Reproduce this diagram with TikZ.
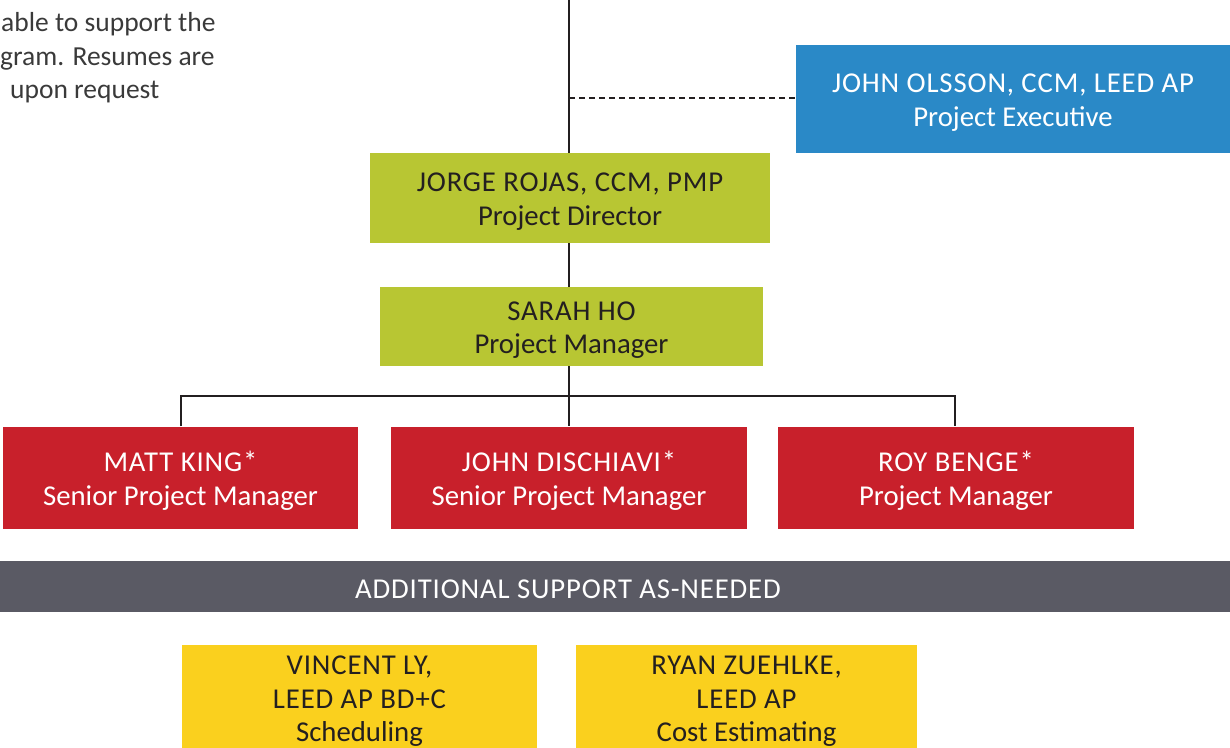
\documentclass[tikz,border=0pt]{standalone}
\usepackage{fontspec}
\setmainfont{Carlito}
\newfontfamily\capsfont[LetterSpace=3]{Carlito}
\definecolor{cblue}{HTML}{2A89C7}
\definecolor{cgreen}{HTML}{B8C633}
\definecolor{cred}{HTML}{C8202B}
\definecolor{cgray}{HTML}{5A5A64}
\definecolor{cyellow}{HTML}{FAD01E}
\definecolor{cdark}{HTML}{231F20}
\definecolor{ctext}{HTML}{3A3A3A}
\begin{document}
\begin{tikzpicture}[x=1pt,y=-1pt,
  box/.style={rectangle,inner sep=0pt},
  bluebox/.style={box,fill=cblue},
  greenbox/.style={box,fill=cgreen},
  redbox/.style={box,fill=cred},
  yellowbox/.style={box,fill=cyellow},
  txt/.style={inner sep=0pt,align=center,font=\fontsize{28.75}{33.5}\selectfont,yshift=-3.5pt},
  wtxt/.style={txt,text=white},
  dtxt/.style={txt,text=cdark},
  conn/.style={draw=cdark,line width=2pt},
  dashconn/.style={draw=cdark,line width=2pt,dash pattern=on 6pt off 4pt},
  note/.style={anchor=base west,inner sep=0pt,text=ctext,font=\fontsize{27.5}{33}\selectfont}]
\useasboundingbox (0,0) rectangle (1230,747);
\clip (0,0) rectangle (1230,747);

% top-left note
\node[note] (n1) at (1,31) {able to support the};
\node[note] (n2) at (0,65) {gram. Resumes are};
\node[note] (n3) at (10,98) {upon request};

% boxes
\node[bluebox,minimum width=434pt,minimum height=108pt] (olsson) at (1013,99) {};
\node[wtxt] (olssont) at (olsson.center) {{\capsfont JOHN OLSSON, CCM, LEED AP}\\Project Executive};
\node[greenbox,minimum width=400pt,minimum height=90pt] (rojas) at (570,198) {};
\node[dtxt] (rojast) at (rojas.center) {{\capsfont JORGE ROJAS, CCM, PMP}\\Project Director};
\node[greenbox,minimum width=383pt,minimum height=79pt] (ho) at (571.5,326.5) {};
\node[dtxt] (hot) at (ho.center) {{\capsfont SARAH HO}\\Project Manager};
\node[redbox,minimum width=355pt,minimum height=102pt] (king) at (180.5,477.5) {};
\node[wtxt] (kingt) at (king.center) {{\capsfont MATT KING*}\\Senior Project Manager};
\node[redbox,minimum width=356pt,minimum height=102pt] (dischiavi) at (569,477.5) {};
\node[wtxt] (dischiavit) at (dischiavi.center) {{\capsfont JOHN DISCHIAVI*}\\Senior Project Manager};
\node[redbox,minimum width=356pt,minimum height=102pt] (benge) at (956,477.5) {};
\node[wtxt] (benget) at (benge.center) {{\capsfont ROY BENGE*}\\Project Manager};
\node[box,fill=cgray,minimum width=1230pt,minimum height=51pt] (support) at (615,586.5) {};
\node[wtxt,yshift=1pt] (supportt) at (568,586.5) {\capsfont ADDITIONAL SUPPORT AS-NEEDED};
\node[yellowbox,minimum width=355pt,minimum height=108pt] (ly) at (359.5,699) {};
\node[dtxt,yshift=1pt] (lyt) at (ly.center) {{\capsfont VINCENT LY,}\\{\capsfont LEED AP BD+C}\\Scheduling};
\node[yellowbox,minimum width=341pt,minimum height=108pt] (zuehlke) at (746.5,699) {};
\node[dtxt,yshift=1pt] (zuehlket) at (zuehlke.center) {{\capsfont RYAN ZUEHLKE,}\\{\capsfont LEED AP}\\Cost Estimating};

% connectors
\coordinate (top) at (569,0);
\coordinate (dashstart) at (569,98);
\coordinate (bus) at (569,396);
\draw[conn] (top) -- (top |- rojas.north);
\draw[dashconn] (dashstart) -- (olsson.west |- dashstart);
\draw[conn] (top |- rojas.south) -- (top |- ho.north);
\draw[conn] (top |- ho.south) -- (bus);
\draw[conn] (bus) -- (dischiavi.north -| bus);
\draw[conn] (king.north -| 181,0) -- (181,396) -- (955,396) -- (benge.north -| 955,0);
\end{tikzpicture}
\end{document}
